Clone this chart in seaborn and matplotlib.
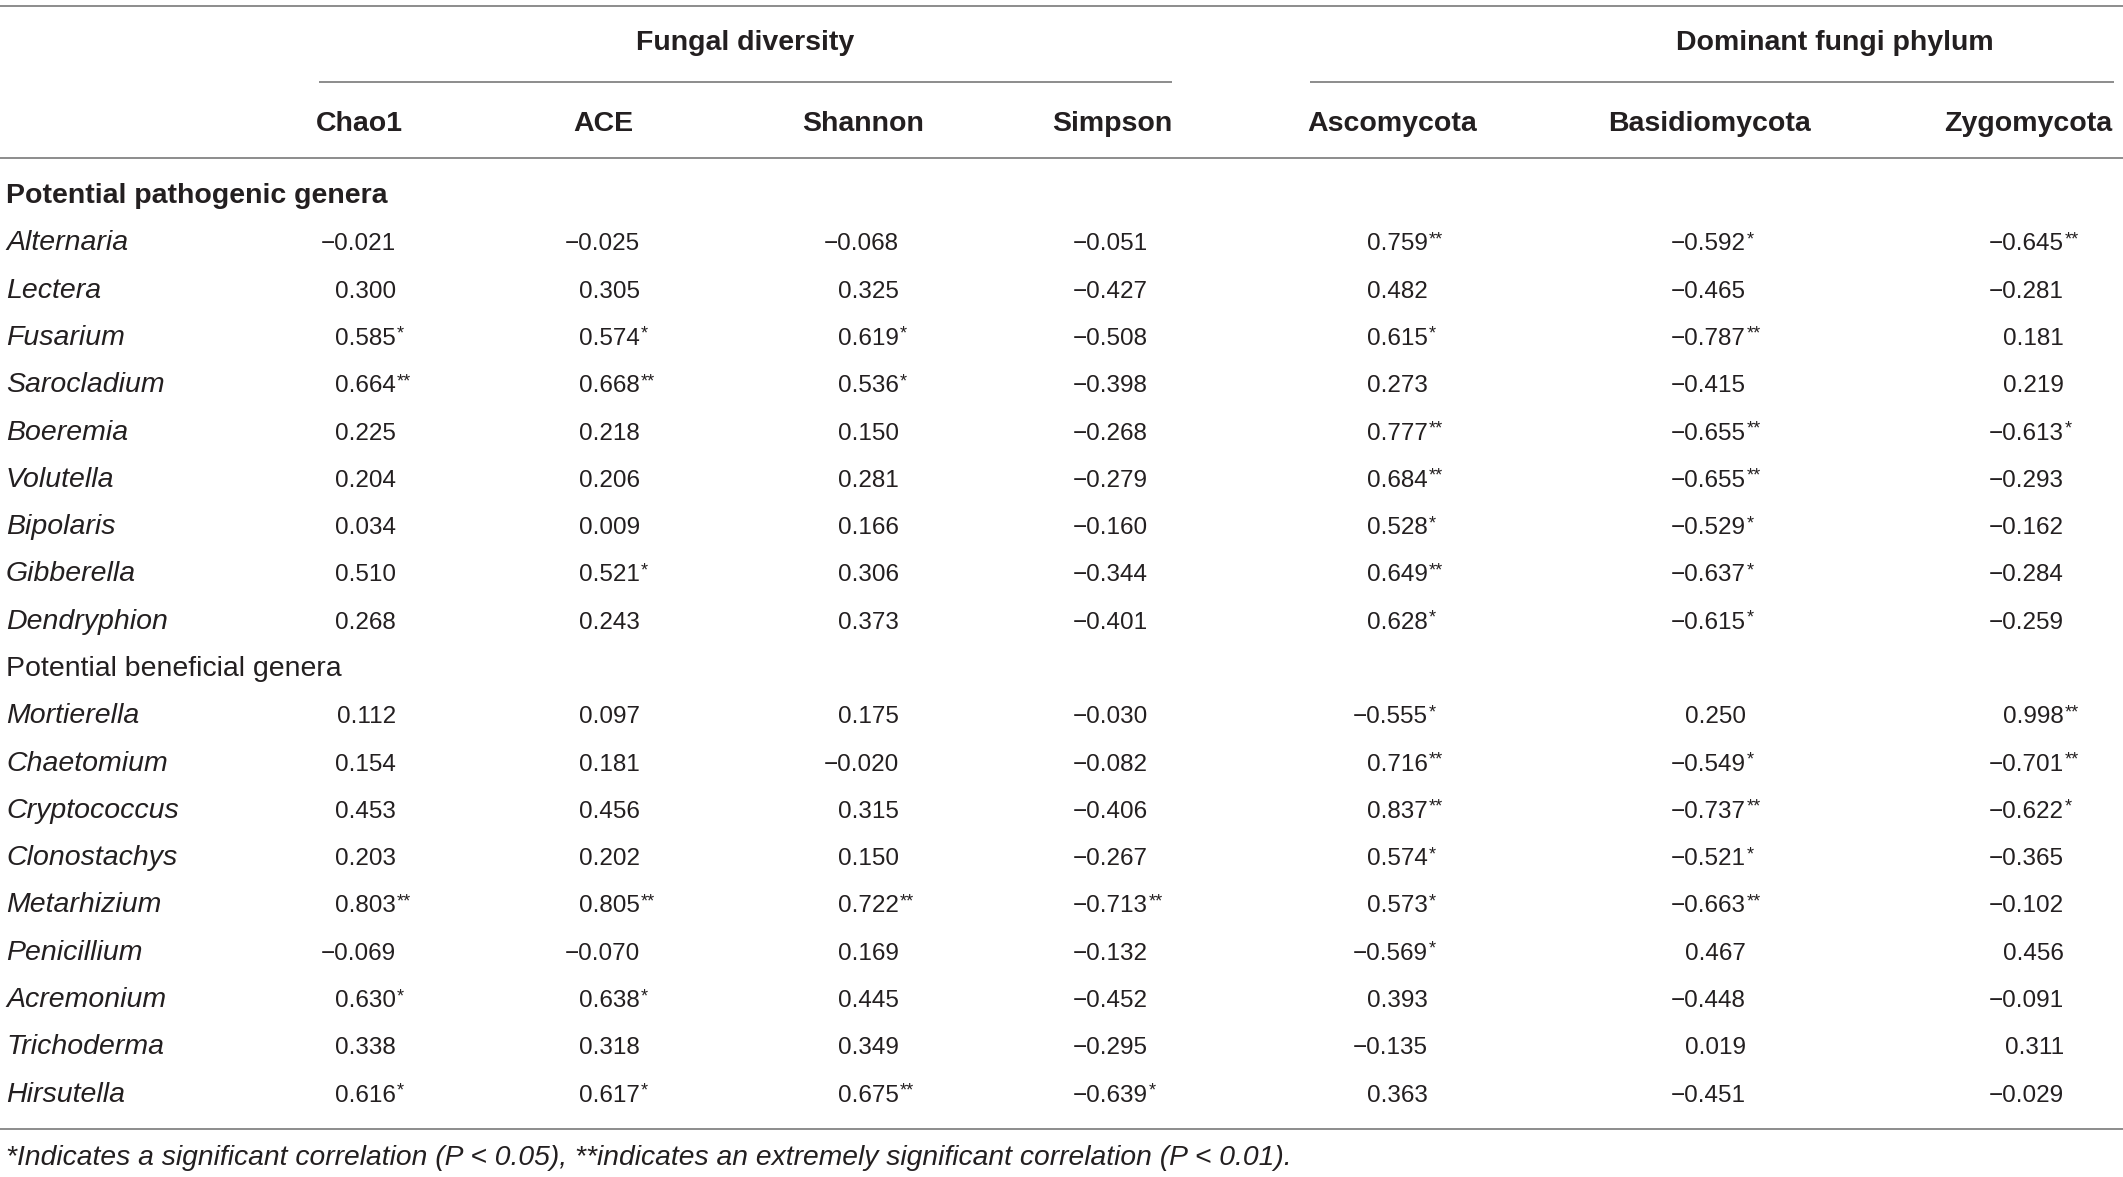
import matplotlib
matplotlib.use("Agg")
import matplotlib.pyplot as plt
import seaborn as sns

# Значения корреляций (строки таблицы)
genera_pathogenic = ["Alternaria", "Lectera", "Fusarium", "Sarocladium", "Boeremia",
                     "Volutella", "Bipolaris", "Gibberella", "Dendryphion"]
genera_beneficial = ["Mortierella", "Chaetomium", "Cryptococcus", "Clonostachys",
                     "Metarhizium", "Penicillium", "Acremonium", "Trichoderma", "Hirsutella"]

columns = ["Chao1", "ACE", "Shannon", "Simpson", "Ascomycota", "Basidiomycota", "Zygomycota"]
group_labels = ["Fungal diversity", "Dominant fungi phylum"]

chao1 = [-0.021, 0.300, 0.585, 0.664, 0.225, 0.204, 0.034, 0.510, 0.268,
         0.112, 0.154, 0.453, 0.203, 0.803, -0.069, 0.630, 0.338, 0.616]
chao1_sig = [0, 0, 1, 2, 0, 0, 0, 0, 0,
             0, 0, 0, 0, 2, 0, 1, 0, 1]
ace = [-0.025, 0.305, 0.574, 0.668, 0.218, 0.206, 0.009, 0.521, 0.243,
       0.097, 0.181, 0.456, 0.202, 0.805, -0.070, 0.638, 0.318, 0.617]
ace_sig = [0, 0, 1, 2, 0, 0, 0, 1, 0,
           0, 0, 0, 0, 2, 0, 1, 0, 1]
shannon = [-0.068, 0.325, 0.619, 0.536, 0.150, 0.281, 0.166, 0.306, 0.373,
           0.175, -0.020, 0.315, 0.150, 0.722, 0.169, 0.445, 0.349, 0.675]
shannon_sig = [0, 0, 1, 1, 0, 0, 0, 0, 0,
               0, 0, 0, 0, 2, 0, 0, 0, 2]
simpson = [-0.051, -0.427, -0.508, -0.398, -0.268, -0.279, -0.160, -0.344, -0.401,
           -0.030, -0.082, -0.406, -0.267, -0.713, -0.132, -0.452, -0.295, -0.639]
simpson_sig = [0, 0, 0, 0, 0, 0, 0, 0, 0,
               0, 0, 0, 0, 2, 0, 0, 0, 1]
ascomycota = [0.759, 0.482, 0.615, 0.273, 0.777, 0.684, 0.528, 0.649, 0.628,
              -0.555, 0.716, 0.837, 0.574, 0.573, -0.569, 0.393, -0.135, 0.363]
ascomycota_sig = [2, 0, 1, 0, 2, 2, 1, 2, 1,
                  1, 2, 2, 1, 1, 1, 0, 0, 0]
basidiomycota = [-0.592, -0.465, -0.787, -0.415, -0.655, -0.655, -0.529, -0.637, -0.615,
                 0.250, -0.549, -0.737, -0.521, -0.663, 0.467, -0.448, 0.019, -0.451]
basidiomycota_sig = [1, 0, 2, 0, 2, 2, 1, 1, 1,
                     0, 1, 2, 1, 2, 0, 0, 0, 0]
zygomycota = [-0.645, -0.281, 0.181, 0.219, -0.613, -0.293, -0.162, -0.284, -0.259,
              0.998, -0.701, -0.622, -0.365, -0.102, 0.456, -0.091, 0.311, -0.029]
zygomycota_sig = [2, 0, 0, 0, 1, 0, 0, 0, 0,
                  2, 2, 1, 0, 0, 0, 0, 0, 0]

footnote = ("*Indicates a significant correlation (P < 0.05), "
            "**indicates an extremely significant correlation (P < 0.01).")

values = [chao1, ace, shannon, simpson, ascomycota, basidiomycota, zygomycota]
sigs = [chao1_sig, ace_sig, shannon_sig, simpson_sig, ascomycota_sig,
        basidiomycota_sig, zygomycota_sig]

# Раскладка (в пикселях)
W, H = 2123, 1177
col_center = [359, 603, 863, 1112, 1392, 1709, 2028]
num_right = [396, 640, 899, 1148, 1428, 1746, 2064]
row_top = 194
row_step = 47.3
fs_lab = 20.5   # подписи
fs_num = 17.5   # числа
txt_color = "#231f20"
line_color = "#8c8c8c"

sns.set_theme(style="white")
plt.rcParams["font.family"] = ["Liberation Sans", "DejaVu Sans"]

fig = plt.figure(figsize=(W / 100, H / 100), dpi=100)
ax = fig.add_axes([0, 0, 1, 1])
ax.set_xlim(0, W)
ax.set_ylim(H, 0)
ax.axis("off")

# Линии таблицы
ax.hlines([6, 158, 1129], 0, W, color=line_color, lw=1.4)
ax.hlines(82, 319, 1172, color=line_color, lw=1.4)
ax.hlines(82, 1310, 2114, color=line_color, lw=1.4)

# Заголовки
base = 9  # смещение до базовой линии
ax.text(745, 41 + base, group_labels[0], ha="center", va="baseline",
        fontsize=fs_lab, fontweight="bold", color=txt_color)
ax.text(1835, 41 + base, group_labels[1], ha="center", va="baseline",
        fontsize=fs_lab, fontweight="bold", color=txt_color)
for x, c in zip(col_center, columns):
    ax.text(x, 122 + base, c, ha="center", va="baseline",
            fontsize=fs_lab, fontweight="bold", color=txt_color)

# Строки
rows = ([("Potential pathogenic genera", "bold")] + [(g, "italic") for g in genera_pathogenic]
        + [("Potential beneficial genera", "normal")] + [(g, "italic") for g in genera_beneficial])
k = 0
for i, (name, kind) in enumerate(rows):
    y = row_top + i * row_step + base
    if kind == "bold":
        ax.text(6, y, name, ha="left", va="baseline", fontsize=fs_lab,
                fontweight="bold", color=txt_color)
        continue
    if kind == "normal":
        ax.text(6, y, name, ha="left", va="baseline", fontsize=fs_lab,
                color=txt_color)
        continue
    ax.text(6, y, name, ha="left", va="baseline", fontsize=fs_lab,
            fontstyle="italic", color=txt_color)
    for j in range(len(columns)):
        v = values[j][k]
        s = f"{v:.3f}".replace("-", "\u2212")
        ax.text(num_right[j], y, s, ha="right", va="baseline", fontsize=fs_num,
                color=txt_color)
        if sigs[j][k]:
            ax.text(num_right[j] + 1, y - 6, "*" * sigs[j][k], ha="left", va="baseline",
                    fontsize=13, color=txt_color)
    k += 1

ax.text(6, 1156 + base, footnote, ha="left", va="baseline", fontsize=20.3,
        fontstyle="italic", color=txt_color)

fig.savefig("out.png", dpi=100, facecolor="white")
